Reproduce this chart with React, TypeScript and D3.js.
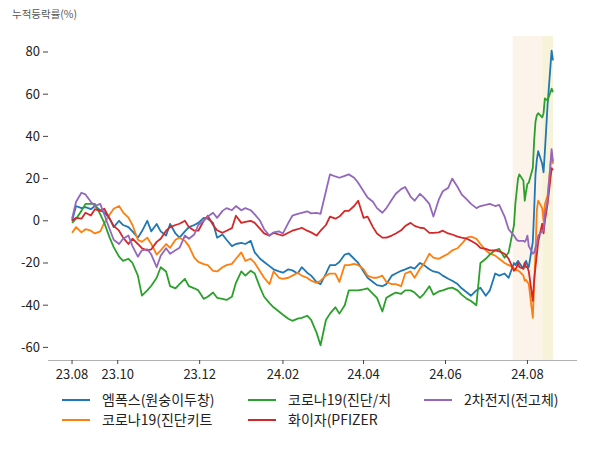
import React from 'react';
import * as d3 from 'd3';

// trading dates (twice a week, daily for the last month)
const dates = [
	'2023-08-28', '2023-08-31', '2023-09-04', '2023-09-07', '2023-09-11', '2023-09-14', '2023-09-18', '2023-09-21', '2023-09-25', '2023-09-28',
	'2023-10-02', '2023-10-05', '2023-10-09', '2023-10-12', '2023-10-16', '2023-10-19', '2023-10-23', '2023-10-26', '2023-10-30', '2023-11-02',
	'2023-11-06', '2023-11-09', '2023-11-13', '2023-11-16', '2023-11-20', '2023-11-23', '2023-11-27', '2023-11-30', '2023-12-04', '2023-12-07',
	'2023-12-11', '2023-12-14', '2023-12-18', '2023-12-21', '2023-12-25', '2023-12-28', '2024-01-01', '2024-01-04', '2024-01-08', '2024-01-11',
	'2024-01-15', '2024-01-18', '2024-01-22', '2024-01-25', '2024-01-29', '2024-02-01', '2024-02-05', '2024-02-08', '2024-02-12', '2024-02-15',
	'2024-02-19', '2024-02-22', '2024-02-26', '2024-02-29', '2024-03-04', '2024-03-07', '2024-03-11', '2024-03-14', '2024-03-18', '2024-03-21',
	'2024-03-25', '2024-03-28', '2024-04-01', '2024-04-04', '2024-04-08', '2024-04-11', '2024-04-15', '2024-04-18', '2024-04-22', '2024-04-25',
	'2024-04-29', '2024-05-02', '2024-05-06', '2024-05-09', '2024-05-13', '2024-05-16', '2024-05-20', '2024-05-23', '2024-05-27', '2024-05-30',
	'2024-06-03', '2024-06-06', '2024-06-10', '2024-06-13', '2024-06-17', '2024-06-20', '2024-06-24', '2024-06-27', '2024-07-01', '2024-07-04',
	'2024-07-08', '2024-07-11', '2024-07-15', '2024-07-18',
	'2024-07-22', '2024-07-23', '2024-07-24', '2024-07-25', '2024-07-26',
	'2024-07-29', '2024-07-30', '2024-07-31', '2024-08-01', '2024-08-02',
	'2024-08-05', '2024-08-06', '2024-08-07', '2024-08-08', '2024-08-09',
	'2024-08-12', '2024-08-13', '2024-08-14', '2024-08-16', '2024-08-19', '2024-08-20',
];

const mpox = [
	0, 7, 6, 6.5, 5.5, 7, 5, 4, 1, -3,
	0, -2, -3, -5, -8, -5, 0, -5, -1.5, -5,
	-7, -1.5, -6, -8, -5, -3, -2, -1, 1.4, 1,
	-1, -8, -6.5, -9, -12, -11, -10.5, -11, -9.5, -15,
	-18, -19.5, -21.5, -23, -24, -24.6, -23, -23.5, -25, -22,
	-24.6, -26, -29, -30, -25, -21, -21, -19.5, -16, -15.5,
	-18, -20, -24, -27, -29, -30.5, -31, -30, -26, -25,
	-23.7, -23, -22, -22.7, -20, -21, -23, -24, -24.6, -26,
	-27.5, -28.4, -30, -32, -34, -35.5, -33, -31.7, -35.5, -33,
	-25, -26, -25, -27,
	-20, -21, -20, -19, -20,
	-22.7, -20, -19, -21, -22,
	-10, 5, 22, 29, 33,
	27, 23, 33, 55, 80.6, 76,
];

const covidKit = [
	-5.7, -3, -5.5, -4, -4.7, -6, -5, -1, 3, 5.7,
	7, 4, 1.5, -2, -9, -10, -8, -11, -16, -14,
	-11, -12.8, -9, -8, -9.5, -12, -17.5, -19.5, -20.5, -21,
	-23.7, -24, -22, -21, -20.4, -18, -15, -19, -18, -20,
	-24, -27, -30, -24, -27, -27.5, -27, -26, -24.6, -26,
	-27, -28.4, -29.4, -28.4, -26, -25, -25, -29, -21, -21,
	-20.4, -21, -23, -26, -27, -27, -26, -29, -30, -30,
	-31, -25, -24, -27, -22.7, -20.4, -15.6, -17.5, -18, -17,
	-15.6, -14, -13, -11, -8, -7.5, -8.5, -11, -14, -15.6,
	-16.5, -18, -20, -21,
	-22.5, -23, -23.5, -23.5, -24,
	-26, -28.4, -28, -29, -30,
	-46, -30, -15, 5, 9.5,
	6, 0, 8, 12, 32, 27,
];

const covidTx = [
	-1, 1, 4.7, 8, 8, 8, 3, -1, -8, -12.5,
	-17, -19, -18, -20, -26, -35.5, -33, -30.8, -27, -22,
	-24, -31, -32, -30, -27.5, -31, -32, -33, -37, -36,
	-34, -36.5, -37, -37.5, -36, -29.4, -24, -26, -23.7, -25,
	-31.7, -36, -39, -41, -43, -44.5, -46.4, -47.4, -46.4, -46,
	-45, -47, -53, -59, -47, -44, -41, -44, -40, -33,
	-33, -33, -32.5, -32, -34.6, -36.5, -43, -36.5, -35, -34,
	-34.6, -33, -33, -34, -36.5, -34.6, -31, -35, -33.5, -33,
	-32, -31.7, -33, -35, -37, -38, -40, -20, -18, -16,
	-14, -13.3, -17.5, -15,
	-2, 8, 14, 20, 22,
	19, 9.5, 14, 17.5, 18,
	25, 38, 47, 50, 51,
	49, 51, 58, 57, 62.6, 61,
];

const pfizer = [
	0, 1.4, 1, 3.8, 2.5, 5.5, 4.7, 5.7, 1, -2.4,
	-4.7, -8, -11, -8.5, -11, -13, -14, -13.5, -10, -8.5,
	-4.7, -3, -2, -1.4, 0, -3, -4.7, -4.7, 0, 2.4,
	-2, -4.5, -5.7, -4.7, -3.5, 2.4, -1, -0.5, 0, -1,
	-3.8, -6, -7, -5.7, -6.5, -7, -5.7, -4.7, -4, -3.3,
	-4.7, -5.5, -7, -4.7, -2, 2, 1, 2, 4.7, 4.7,
	7, 9.5, 1.4, 2, -3, -6, -8, -8, -7, -6,
	-4.5, -2.5, -1, -2.4, -3.3, -3.5, -5.7, -5.7, -5.5, -4.7,
	-6, -6.5, -7.5, -8, -8.5, -9.5, -11, -12.8, -13.3, -14,
	-14, -14.5, -15.6, -18,
	-23.7, -23, -22, -20, -22,
	-22.7, -20, -22, -22, -24,
	-38, -28, -22, -16, -10,
	-1.4, -6, 0, 8, 25, 24,
];

const battery = [
	1, 9, 13.3, 12.5, 9, 7, 8, 3, -4, -9,
	-11, -8.5, -7, -12, -17, -14, -13.5, -16, -22, -16.6,
	-13, -15.6, -14, -12.8, -7, -8.5, -6.5, -2, 0, 2,
	3.8, 1.4, 4.7, 6, 5, 7, 5, 6, 5, 3,
	0, -4, -7, -5.5, -5, -6, -1, 2.4, 3.3, 3.8,
	4.5, 3.5, 3.8, 3.3, 14, 22, 21, 20.4, 21.3, 22,
	20.4, 18, 14, 11, 9, 6, 3.8, 6, 10, 12.8,
	15, 16, 11.5, 9.5, 12.8, 11, 8, 2, 10, 14,
	15.6, 20, 16, 12.5, 10, 8, 6, 7, 7.5, 8,
	7, 7.5, 2, -4,
	-7, -8, -9, -9.5, -9.5,
	-9.5, -10, -9, -7, -12,
	-15.6, -15, -12.8, -11, -7,
	-5, -4.7, 3, 9.5, 34, 28,
];

const seriesNames = ['엠폭스(원숭이두창)', '코로나19(진단키트', '코로나19(진단/치', '화이자(PFIZER', '2차전지(전고체)'];
const seriesValues = [mpox, covidKit, covidTx, pfizer, battery];
const seriesColors = ['#1f77b4', '#ff7f0e', '#2ca02c', '#d62728', '#9467bd'];

// highlighted periods
const bandStarts = ['2024-07-21', '2024-08-12'];
const bandEnds = ['2024-08-12', '2024-08-20'];
const bandColors = ['#fcf4eb', '#f7f3da'];

const yTicks = [-60, -40, -20, 0, 20, 40, 60, 80];
const monthTicks = ['2023-10-01', '2023-12-01', '2024-02-01', '2024-04-01', '2024-06-01', '2024-08-01'];

const FONT = "'Noto Sans CJK KR', 'Noto Sans', sans-serif";

class App extends React.Component {
	constructor(props) {
		super(props);
		this.drawChart = this.drawChart.bind(this);
	}
	componentDidMount() {
		this.drawChart();
	}
	componentDidUpdate() {
		this.drawChart();
	}
	drawChart() {
		const parse = d3.timeParse('%Y-%m-%d');
		const xs = dates.map(parse);
		const left = 48;
		const right = 577;
		const top = 36;
		const bottom = 360;

		// 5% margins around the data, like the original
		const [x0, x1] = d3.extent(xs);
		const xPad = (x1 - x0) * 0.05;
		const xScale = d3
			.scaleTime()
			.domain([new Date(+x0 - xPad), new Date(+x1 + xPad)])
			.range([left, right]);
		const allVals = seriesValues.flat();
		const yMin = d3.min(allVals);
		const yMax = d3.max(allVals);
		const yPad = (yMax - yMin) * 0.05;
		const yScale = d3
			.scaleLinear()
			.domain([yMin - yPad, yMax + yPad])
			.range([bottom, top]);

		const svg = d3.select(this.node).style('font-family', FONT);
		svg.selectAll('*').remove();

		// bands
		svg
			.selectAll('.band')
			.data(bandStarts)
			.enter()
			.append('rect')
			.attr('x', (d, i) => xScale(parse(d)))
			.attr('y', top)
			.attr('width', (d, i) => xScale(parse(bandEnds[i])) - xScale(parse(d)))
			.attr('height', bottom - top)
			.attr('fill', (d, i) => bandColors[i]);

		// lines
		const line = d3
			.line()
			.x((d, i) => xScale(xs[i]))
			.y(d => yScale(d));
		svg
			.selectAll('.series')
			.data(seriesValues)
			.enter()
			.append('path')
			.attr('fill', 'none')
			.attr('stroke', (d, i) => seriesColors[i])
			.attr('stroke-width', 1.8)
			.attr('stroke-linejoin', 'round')
			.attr('d', d => line(d));

		// x axis
		svg
			.append('line')
			.attr('x1', left)
			.attr('x2', right)
			.attr('y1', bottom + 0.5)
			.attr('y2', bottom + 0.5)
			.attr('stroke', '#b0b0b0');
		const xTickDates = [x0, ...monthTicks.map(parse)];
		const fmt = d3.timeFormat('%y.%m');
		const xt = svg.selectAll('.xtick').data(xTickDates).enter().append('g');
		xt.append('line')
			.attr('x1', d => xScale(d))
			.attr('x2', d => xScale(d))
			.attr('y1', bottom)
			.attr('y2', bottom + 4)
			.attr('stroke', '#444');
		xt.append('text')
			.attr('x', d => xScale(d))
			.attr('y', bottom + 19)
			.attr('text-anchor', 'middle')
			.attr('font-size', 13)
			.attr('fill', '#222')
			.text(d => fmt(d));

		// y axis
		const yt = svg.selectAll('.ytick').data(yTicks).enter().append('g');
		yt.append('line')
			.attr('x1', left - 5)
			.attr('x2', left)
			.attr('y1', d => yScale(d))
			.attr('y2', d => yScale(d))
			.attr('stroke', '#444');
		yt.append('text')
			.attr('x', left - 8)
			.attr('y', d => yScale(d) + 4.5)
			.attr('text-anchor', 'end')
			.attr('font-size', 13)
			.attr('fill', '#222')
			.text(d => d);

		svg
			.append('text')
			.attr('x', 12)
			.attr('y', 18)
			.attr('font-size', 10.5)
			.attr('fill', '#555')
			.text('누적등락률(%)');

		// legend, 3 columns
		const colX = [62, 248, 424];
		const legend = svg
			.selectAll('.legend')
			.data(seriesNames)
			.enter()
			.append('g')
			.attr('transform', (d, i) => `translate(${colX[Math.floor(i / 2)]},${i % 2 === 0 ? 400 : 420})`);
		legend
			.append('line')
			.attr('x1', 0)
			.attr('x2', 28)
			.attr('stroke', (d, i) => seriesColors[i])
			.attr('stroke-width', 2);
		legend
			.append('text')
			.attr('x', 40)
			.attr('y', 5)
			.attr('font-size', 14)
			.attr('fill', '#222')
			.text(d => d);
	}

	render() {
		return (
			<div style={{ margin: -8 }}>
				<svg ref={node => (this.node = node)} width={600} height={450} />
			</div>
		);
	}
}

export default App;
